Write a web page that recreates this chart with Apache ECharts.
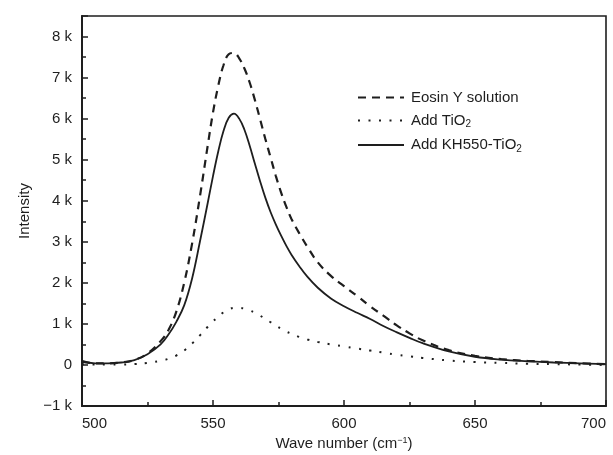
<!DOCTYPE html>
<html>
<head>
<meta charset="utf-8">
<script src="https://cdn.jsdelivr.net/npm/echarts@6/dist/echarts.min.js"></script>
<style>
  html, body { margin: 0; padding: 0; background: #fff; }
  #chart { width: 613px; height: 455px; }
</style>
</head>
<body>
<div id="chart"></div>
<script>
// wave number (cm-1), intensity in thousands
const waveNumber = [500, 505, 510, 515, 520, 525, 530, 533, 536, 539, 542, 545, 548, 550, 552, 554, 556, 558, 560, 562, 564, 566, 568, 570, 572, 574, 576, 578, 580, 583, 586, 590, 595, 600, 605, 610, 615, 620, 625, 630, 640, 650, 660, 670, 680, 690, 700]
const eosinY = [0.08, 0.04, 0.04, 0.06, 0.12, 0.28, 0.58, 0.85, 1.3, 2.0, 2.95, 4.1, 5.35, 6.15, 6.8, 7.3, 7.57, 7.6, 7.47, 7.22, 6.88, 6.45, 5.98, 5.5, 5.05, 4.6, 4.2, 3.85, 3.55, 3.2, 2.88, 2.5, 2.17, 1.92, 1.68, 1.43, 1.2, 0.97, 0.77, 0.6, 0.36, 0.22, 0.14, 0.1, 0.07, 0.04, 0.02]
const addTiO2 = [0.02, 0.01, 0.01, 0.01, 0.02, 0.05, 0.1, 0.15, 0.23, 0.35, 0.52, 0.72, 0.93, 1.06, 1.18, 1.28, 1.35, 1.39, 1.39, 1.37, 1.33, 1.27, 1.2, 1.12, 1.04, 0.96, 0.88, 0.81, 0.76, 0.68, 0.62, 0.56, 0.5, 0.45, 0.4, 0.35, 0.3, 0.25, 0.21, 0.17, 0.11, 0.07, 0.05, 0.03, 0.02, 0.01, 0.0]
const addKH550 = [0.1, 0.04, 0.04, 0.06, 0.12, 0.26, 0.5, 0.74, 1.05, 1.45, 2.1, 3.0, 3.95, 4.6, 5.2, 5.7, 6.02, 6.12, 6.0, 5.73, 5.34, 4.9, 4.47, 4.07, 3.72, 3.42, 3.15, 2.9, 2.68, 2.4, 2.15, 1.88, 1.62, 1.43, 1.27, 1.12, 0.95, 0.8, 0.66, 0.53, 0.33, 0.2, 0.13, 0.09, 0.06, 0.04, 0.02]

const seriesNames = ['Eosin Y solution', 'Add TiO2', 'Add KH550-TiO2']
const legendLabels = {
  'Eosin Y solution': '{t|Eosin Y solution}',
  'Add TiO2': '{t|Add TiO}{s|2}',
  'Add KH550-TiO2': '{t|Add KH550-TiO}{s|2}'
}

const fontFamily = '"Liberation Sans", Arial, sans-serif'
const ink = '#1e1e1e'

const pairs = vals => waveNumber.map((x, i) => [x, vals[i]])

const chart = echarts.init(document.getElementById('chart'))

chart.setOption({
  backgroundColor: '#fff',
  animation: false,
  textStyle: { fontFamily: fontFamily, color: ink },
  grid: {
    left: 82, right: 7, top: 16, bottom: 49,
    containLabel: false,
    outerBoundsMode: 'none',
    show: true, borderColor: ink, borderWidth: 1.6
  },
  legend: {
    orient: 'vertical',
    left: 352,
    top: 85,
    itemWidth: 46,
    itemHeight: 14,
    itemGap: 8,
    data: seriesNames,
    itemStyle: { opacity: 0 },
    formatter: name => legendLabels[name],
    textStyle: {
      fontFamily: fontFamily,
      color: ink,
      padding: [0, 0, 0, 2],
      rich: {
        t: { fontSize: 15, lineHeight: 18, fontFamily: fontFamily, color: ink },
        s: { fontSize: 10, lineHeight: 10, verticalAlign: 'bottom', fontFamily: fontFamily, color: ink }
      }
    }
  },
  xAxis: {
    type: 'value',
    min: 500,
    max: 700,
    interval: 50,
    name: 'Wave number (cm{sup|−1})',
    nameLocation: 'middle',
    nameGap: 30,
    nameTextStyle: {
      fontSize: 15,
      color: ink,
      rich: {
        sup: { fontSize: 9, verticalAlign: 'top', fontFamily: fontFamily, color: ink }
      }
    },
    axisLine: { onZero: false, lineStyle: { color: ink, width: 2 } },
    axisTick: { inside: true, length: 6, lineStyle: { color: ink, width: 1.5 } },
    minorTick: { show: true, splitNumber: 2, length: 4, lineStyle: { color: ink, width: 1.5 } },
    splitLine: { show: false },
    axisLabel: { fontSize: 15, color: ink, margin: 10, alignMinLabel: 'left', alignMaxLabel: 'right' }
  },
  yAxis: {
    type: 'value',
    min: -1,
    max: 8.5,
    interval: 1,
    name: 'Intensity',
    nameLocation: 'middle',
    nameGap: 50,
    nameTextStyle: { fontSize: 15, color: ink },
    axisLine: { show: true, onZero: false, lineStyle: { color: ink, width: 2 } },
    axisTick: { show: true, inside: true, length: 6, lineStyle: { color: ink, width: 1.5 } },
    minorTick: { show: true, splitNumber: 2, length: 4, lineStyle: { color: ink, width: 1.5 } },
    splitLine: { show: false },
    axisLabel: {
      fontSize: 15,
      color: ink,
      margin: 10,
      showMaxLabel: false,
      formatter: v => v === 0 ? '0' : (v < 0 ? '−' : '') + Math.abs(v) + ' k'
    }
  },
  series: [
    {
      name: seriesNames[0],
      type: 'line',
      smooth: 0.4,
      symbol: 'none',
      data: pairs(eosinY),
      lineStyle: { color: ink, width: 2.2, type: [8, 6] },
      itemStyle: { color: ink }
    },
    {
      name: seriesNames[1],
      type: 'line',
      smooth: 0.4,
      symbol: 'none',
      data: pairs(addTiO2),
      lineStyle: { color: ink, width: 2, type: [2, 8.5] },
      itemStyle: { color: ink }
    },
    {
      name: seriesNames[2],
      type: 'line',
      smooth: 0.4,
      symbol: 'none',
      data: pairs(addKH550),
      lineStyle: { color: ink, width: 1.8, type: 'solid' },
      itemStyle: { color: ink }
    }
  ]
})
</script>
</body>
</html>
